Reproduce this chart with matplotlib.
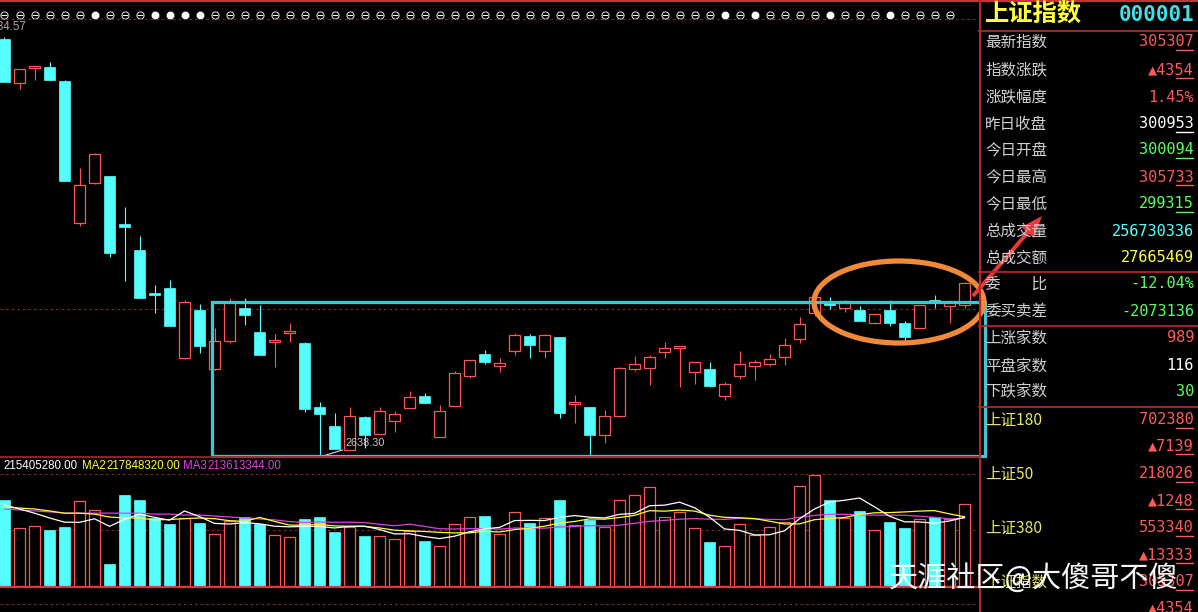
import matplotlib
matplotlib.use("Agg")
import matplotlib.pyplot as plt
import numpy as np
import pandas as pd
from matplotlib.patches import Rectangle, Ellipse, FancyArrow

# ---------------- data ----------------
opens = [3636.8, 3531.7, 3567.5, 3569.9, 3536.5, 3197.2, 3292.8, 3309.5, 3194.8, 3132.7,
         3030.0, 3041.9, 2874.7, 2989.4, 2848.4, 2915.3, 2994.2, 2936.8, 2912.9, 2934.4,
         2910.5, 2757.6, 2712.3, 2654.9, 2733.8, 2693.1, 2724.2, 2755.3, 2783.9, 2686.0,
         2760.0, 2831.7, 2884.3, 2855.6, 2891.4, 2927.3, 2891.4, 2924.9, 2764.8, 2757.6,
         2690.7, 2736.1, 2848.4, 2850.8, 2889.0, 2898.6, 2841.3, 2848.4, 2783.9, 2831.7,
         2855.6, 2860.4, 2877.1, 2920.1, 2982.2, 3006.1, 2994.2, 2989.4, 2958.3, 2989.4,
         2958.3, 2946.4, 3013.3, 2998.9, 3000.94]
highs = [3641.6, 3565.1, 3572.3, 3581.8, 3538.8, 3328.6, 3364.4, 3309.5, 3235.4, 3166.2,
         3049.1, 3061.0, 3013.3, 3003.7, 2946.4, 3018.0, 3018.0, 3001.3, 2932.0, 2958.3,
         2912.9, 2769.6, 2743.3, 2757.6, 2736.1, 2757.6, 2748.1, 2795.9, 2791.1, 2762.4,
         2843.6, 2869.9, 2893.8, 2874.7, 2934.4, 2932.0, 2932.0, 2924.9, 2786.3, 2757.6,
         2750.5, 2853.2, 2879.5, 2881.9, 2912.9, 2903.4, 2865.1, 2865.1, 2817.4, 2891.4,
         2869.9, 2884.3, 2922.5, 2972.7, 3020.4, 3020.4, 3013.3, 2998.9, 2979.8, 3013.3,
         2963.1, 3001.3, 3025.2, 3013.3, 3057.33]
lows = [3534.1, 3517.3, 3538.8, 3538.8, 3297.6, 3190.1, 3290.4, 3116.0, 3058.7, 3018.0,
        2982.2, 2951.2, 2872.3, 2886.6, 2846.0, 2910.5, 2953.5, 2881.9, 2853.2, 2912.9,
        2745.7, 2638.3, 2657.3, 2654.9, 2659.7, 2693.1, 2697.9, 2755.3, 2767.2, 2686.0,
        2760.0, 2826.9, 2860.4, 2841.3, 2881.9, 2874.7, 2874.7, 2731.4, 2719.4, 2638.96,
        2671.6, 2733.8, 2843.6, 2810.2, 2874.7, 2805.4, 2812.6, 2805.4, 2774.4, 2824.5,
        2822.1, 2855.6, 2858.0, 2910.5, 2975.0, 2991.8, 2984.6, 2963.1, 2955.9, 2951.2,
        2908.1, 2946.4, 2994.2, 2958.3, 2993.15]
closes = [3534.1, 3565.1, 3572.3, 3538.8, 3297.6, 3288.0, 3362.1, 3125.5, 3187.7, 3018.0,
          3025.2, 2951.2, 3008.5, 2903.4, 2915.3, 3010.9, 2977.4, 2881.9, 2917.7, 2939.2,
          2752.9, 2740.9, 2657.3, 2736.1, 2690.7, 2748.1, 2740.9, 2781.5, 2767.2, 2748.1,
          2838.9, 2869.9, 2865.1, 2862.8, 2929.6, 2905.8, 2929.6, 2743.3, 2769.6, 2690.7,
          2736.1, 2850.8, 2860.4, 2877.1, 2898.6, 2903.4, 2865.1, 2807.8, 2812.6, 2860.4,
          2865.1, 2872.3, 2905.8, 2955.9, 3020.4, 3001.3, 3010.9, 2963.1, 2979.8, 2958.3,
          2924.9, 3001.3, 3008.5, 3009.53, 3053.07]
# volume, millions
volumes = [269, 182, 188, 175, 185, 266, 238, 69, 285, 269,
           213, 194, 213, 197, 163, 203, 216, 194, 160, 153,
           210, 216, 169, 185, 157, 157, 147, 172, 141, 125,
           194, 216, 219, 163, 232, 197, 213, 269, 191, 207,
           185, 269, 285, 310, 216, 232, 182, 138, 125, 194,
           160, 185, 200, 313, 347, 269, 213, 235, 175, 200,
           182, 210, 216, 210, 256.73]
# moving-average values before enough history is visible
ma5_head = [254, 241, 228, 213]
ma10_head = [247, 244, 241, 235, 228, 228, 225, 216, 213]
ma20_head = [241, 238, 235, 232, 228, 228, 228, 228, 228, 228,
             225, 225, 222, 222, 219, 216, 213, 210, 207]
signal_filled = [6, 10, 11, 12, 13, 48, 50, 55, 59]
n_signals = 64
period_high = 3684.57
period_low = 2638.30
low_index = 21
ref_level = 2991.8
vol_top = 350.56

legend_names = ["", "MA2", "MA3"]
legend_values = ["215405280.00", "217848320.00", "213613344.00"]
legend_colors = ["#FFFFFF", "#FFFF30", "#E040E0"]

title_name = "上证指数"
title_code = "000001"
panel_labels = ["最新指数", "指数涨跌", "涨跌幅度", "昨日收盘", "今日开盘", "今日最高", "今日最低",
                "总成交量", "总成交额", "委\u3000\u3000比", "委买卖差", "上涨家数", "平盘家数", "下跌家数",
                "上证180", "", "上证50", "", "上证380", "", "上证指数", ""]
panel_values = ["305307", "▲4354", "1.45%", "300953", "300094", "305733", "299315",
                "256730336", "27665469", "-12.04%", "-2073136", "989", "116", "30",
                "702380", "▲7139", "218026", "▲1248", "553340", "▲13333", "305307", "▲4354"]
panel_value_colors = ["r", "r", "r", "w", "g", "r", "g", "c", "y", "g", "g", "r", "w", "g",
                      "r", "r", "r", "r", "r", "r", "r", "r"]
panel_underline = [1, 1, 0, 1, 1, 1, 1, 0, 0, 0, 0, 0, 0, 0, 1, 1, 1, 1, 1, 1, 1, 1]
watermark = "天涯社区@大傻哥不傻"

# ---------------- styling ----------------
RED = "#FF5555"
CYAN = "#55FFFF"
GRID = "#7A2828"
LINE_RED = "#B02828"
COLS = {"r": "#FF5A5A", "g": "#5AFF5A", "w": "#FFFFFF", "c": "#5AFFFF", "y": "#FFFF50"}
CJK = ["Noto Sans CJK SC", "DejaVu Sans"]
MONO = ["DejaVu Sans Mono", "DejaVu Sans"]

W, H = 1198, 612
fig = plt.figure(figsize=(W / 100, H / 100), dpi=100, facecolor="black")


def rect(x0, y0, x1, y1):
    return [x0 / W, 1 - y1 / H, (x1 - x0) / W, (y1 - y0) / H]


o = np.array(opens); h = np.array(highs); l = np.array(lows); c = np.array(closes)
v = np.array(volumes, dtype=float)
idx = np.arange(len(o))
up = c >= o

# ---------------- price panel ----------------
ax = fig.add_axes(rect(0, 19, 978, 457))
ax.set_facecolor("black")
ax.set_xlim(-0.3, 64.9)
ax.set_ylim(period_low, period_high)
ax.axis("off")
wick_cols = np.where(up, RED, CYAN)
ax.vlines(idx, l, h, colors=wick_cols, lw=0.8, zorder=2, clip_on=False)
bw = 0.76
body_bot = np.minimum(o, c)
body_h = np.maximum(np.abs(c - o), 0.6)
ax.bar(idx[up], body_h[up], bottom=body_bot[up], width=bw, facecolor="black",
       edgecolor=RED, linewidth=0.9, zorder=3)
ax.bar(idx[~up], body_h[~up], bottom=body_bot[~up], width=bw, facecolor=CYAN,
       edgecolor=CYAN, linewidth=0.5, zorder=3)
ax.axhline(ref_level, color=GRID, lw=0.8, ls=(0, (2.5, 2.5)), zorder=1)
ax.annotate(f"{period_low:.2f}", xy=(low_index, period_low), xytext=(26, 14),
            textcoords="offset pixels", color="#C8C8C8", fontsize=7.8,
            family="Liberation Sans", va="center", ha="left",
            arrowprops=dict(arrowstyle="-", color="#E0E0E0", lw=0.8, shrinkA=0, shrinkB=0))

# signal row above price panel
sig_idx = np.arange(n_signals)
filled = np.isin(sig_idx, signal_filled)
tr = ax.get_xaxis_transform()
ax.scatter(sig_idx[~filled], np.full((~filled).sum(), 1.0095), transform=tr, marker="$\u2296$",
           s=34, color="white", clip_on=False, zorder=5, linewidths=0)
ax.scatter(sig_idx[filled], np.full(filled.sum(), 1.0095), transform=tr, marker="8",
           s=24, color="white", clip_on=False, zorder=5)

# ---------------- volume panel ----------------
axv = fig.add_axes(rect(0, 474, 978, 586))
axv.set_facecolor("black")
axv.set_xlim(-0.3, 64.9)
axv.set_ylim(0, vol_top)
axv.axis("off")
axv.bar(idx[up], v[up], width=bw, facecolor="black", edgecolor=RED, linewidth=0.9, zorder=3)
axv.bar(idx[~up], v[~up], width=bw, facecolor=CYAN, edgecolor=CYAN, linewidth=0.5, zorder=3)
vs = pd.Series(v)
ma5 = vs.rolling(5).mean().to_numpy(); ma5[:len(ma5_head)] = ma5_head
ma10 = vs.rolling(10).mean().to_numpy(); ma10[:len(ma10_head)] = ma10_head
ma20 = vs.rolling(20).mean().to_numpy(); ma20[:len(ma20_head)] = ma20_head
axv.plot(idx, ma20, color="#E040E0", lw=0.9, zorder=4, clip_on=False)
axv.plot(idx, ma10, color="#FFFF30", lw=0.9, zorder=5, clip_on=False)
axv.plot(idx, ma5, color="white", lw=0.9, zorder=6, clip_on=False)
axv.axhline(vol_top / 2, color=GRID, lw=0.8, ls=(0, (2.5, 2.5)), zorder=1)

# ---------------- overlay (frame lines, panel, annotations) ----------------
ov = fig.add_axes([0, 0, 1, 1], zorder=10)
ov.set_xlim(0, W); ov.set_ylim(H, 0); ov.axis("off"); ov.patch.set_alpha(0)

ov.plot([0, W], [1, 1], color="#C83232", lw=1.5)
for yy in (19, 474, 604):
    ov.plot([0, 978], [yy, yy], color=GRID, lw=0.8, ls=(0, (2.5, 2.5)))
ov.plot([0, 978], [457, 457], color="#A02424", lw=1.3)
ov.plot([0, 978], [586.5, 586.5], color="#E03838", lw=1.6)
ov.plot([979.5, 979.5], [0, H], color=LINE_RED, lw=1.5)
for yy in (31, 272, 326, 407):
    ov.plot([979, W], [yy, yy], color=LINE_RED, lw=1.3)

ov.text(26, 27, f"{period_high:.2f}", color="#A8A8A8", fontsize=8.3, family="Liberation Sans",
        ha="right", va="center")

# volume legend
name_x = [0, 82, 183]
val_x = [3, 106, 207]
for name, val, col, nx, vx in zip(legend_names, legend_values, legend_colors, name_x, val_x):
    if name:
        ov.text(nx, 466, name, color=col, fontsize=8.3, family="Liberation Sans", va="center")
    ov.text(vx, 466, val, color=col, fontsize=8.3, family="Liberation Sans", va="center")

# right info panel
ov.text(985, 15, title_name, color="#FFFF40", fontsize=17.5, family=CJK, weight="bold",
        va="center", ha="left")
ov.text(1194, 15, title_code, color="#40E0E8", fontsize=15, family=MONO, weight="bold",
        va="center", ha="right")
row_y = [42, 70, 97, 124, 150, 177, 204, 231, 258, 284, 311, 338, 366, 392,
         420, 446, 474, 501, 528, 555, 582, 608]
vfs = 11
cw = vfs * 100 / 72 * 0.602
for lab, val, col, ul, yy in zip(panel_labels, panel_values, panel_value_colors,
                                 panel_underline, row_y):
    if lab:
        lcol = "#E8E860" if lab.startswith("上证") else "#D0D0D0"
        ov.text(985, yy, lab, color=lcol, fontsize=11.2, family=CJK, va="center", ha="left")
    ov.text(1194, yy, val, color=COLS[col], fontsize=vfs, family=MONO, va="center", ha="right")
    if ul:
        ov.plot([1194 - 2 * cw, 1193], [yy + 8, yy + 8], color=COLS[col], lw=1)

# annotations: box, ellipse, arrow
ov.add_patch(Rectangle((212, 301.5), 773, 154.5, fill=False, edgecolor="#3CC8D2", lw=2.3))
ov.add_patch(Ellipse((899, 302), 170, 82, fill=False, edgecolor="#F08A3A", lw=3.8))
ov.add_patch(FancyArrow(973, 296, 69, -80, width=4, head_width=17, head_length=22,
                        length_includes_head=True, color="#E83A3A", lw=0))

# watermark
ov.text(889, 579, watermark, color="white", fontsize=21, family=CJK, va="center", ha="left",
        alpha=0.97)

fig.savefig("out.png", dpi=100, facecolor="black")
